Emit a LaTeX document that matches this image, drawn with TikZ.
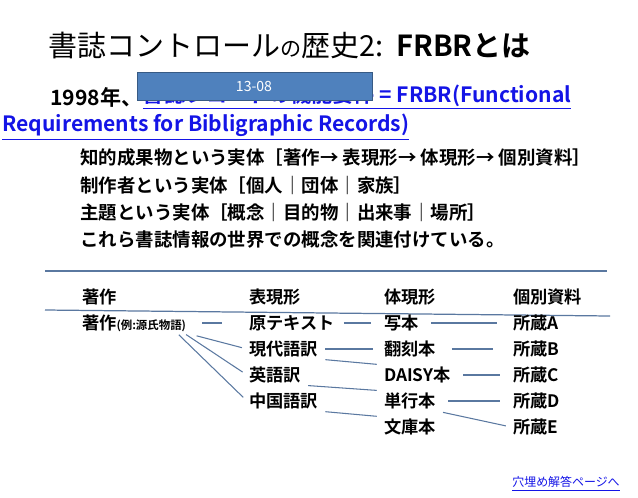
\documentclass[tikz,border=0pt]{standalone}
\usepackage{fontspec}
\setmainfont{Noto Sans CJK JP}
\newfontfamily\jpbold{Noto Sans CJK JP Bold}
\usetikzlibrary{positioning}
\definecolor{linkblue}{RGB}{20,20,230}
\definecolor{boxblue}{RGB}{79,129,189}
\definecolor{rulecol}{RGB}{90,120,160}
\tikzset{x=0.02cm, y=-0.02cm,
    cell/.style={anchor=west, inner sep=1pt, font=\jpbold\fontsize{9.8}{10}\selectfont},
    bullet/.style={anchor=west, inner sep=0pt, font=\jpbold\fontsize{10.5}{11}\selectfont},
    lead/.style={anchor=west, inner sep=0pt, font=\jpbold\fontsize{12}{13}\selectfont},
    link/.style={text=linkblue},
    tie/.style={rulecol, line width=0.6pt, shorten <=3pt, shorten >=3pt},
    sep/.style={rulecol, line width=0.7pt}}
\begin{document}
\begin{tikzpicture}
\useasboundingbox (0,0) rectangle (638,497);
% title
\node[anchor=west, inner sep=0pt] (title) at (48,45)
  {\fontsize{16.5}{17}\selectfont 書誌コントロール{\fontsize{12}{13}\selectfont の}歴史2:\ \ {\jpbold FRBRとは}};
% lead text
\node[lead] (year) at (50,97) {1998年、};
\node[lead, link, right=0pt of year] (frbr)
  {\underline{書誌レコードの機能要件 = FRBR(Functional}};
\node[lead, link] (req) at (2,127)
  {\underline{Requirements for Bibligraphic Records)}};
\node[draw=boxblue!70!black, fill=boxblue, minimum width=235*0.02cm,
  minimum height=28*0.02cm, anchor=north west, inner sep=0pt] (tag) at (137,72) {};
\node[text=white, font=\fontsize{8}{9}\selectfont] (tagtext) at (254,86) {13-08};
% bullets
\node[bullet] (b1) at (80,158) {知的成果物という実体［著作→\ 表現形→\ 体現形→\ 個別資料］};
\node[bullet] (b2) at (80,185) {制作者という実体［個人｜団体｜家族］};
\node[bullet] (b3) at (80,212) {主題という実体［概念｜目的物｜出来事｜場所］};
\node[bullet] (b4) at (80,240) {これら書誌情報の世界での概念を関連付けている。};
% rules
\coordinate (r1a) at (45,271);
\coordinate (r1b) at (607,271);
\coordinate (r2a) at (45,310);
\coordinate (r2b) at (610,316);
\draw[sep] (r1a) -- (r1b);
\draw[sep] (r2a) -- (r2b);
% header row
\node[cell] (hw) at (80,297) {著作};
\node[cell] (he) at (247,297) {表現形};
\node[cell] (hm) at (382,297) {体現形};
\node[cell] (hi) at (511,297) {個別資料};
% work
\node[cell] (w) at (80,323) {著作{\fontsize{6.5}{7}\selectfont (例:源氏物語)}};
% expressions
\node[cell] (e1) at (247,323) {原テキスト};
\node[cell] (e2) at (247,349) {現代語訳};
\node[cell] (e3) at (247,375) {英語訳};
\node[cell] (e4) at (247,401) {中国語訳};
% manifestations
\node[cell] (m1) at (382,323) {写本};
\node[cell] (m2) at (382,349) {翻刻本};
\node[cell] (m3) at (382,375) {DAISY本};
\node[cell] (m4) at (382,401) {単行本};
\node[cell] (m5) at (382,427) {文庫本};
% items
\node[cell] (i1) at (511,323) {所蔵A};
\node[cell] (i2) at (511,349) {所蔵B};
\node[cell] (i3) at (511,375) {所蔵C};
\node[cell] (i4) at (511,401) {所蔵D};
\node[cell] (i5) at (511,427) {所蔵E};
% ties
\draw[tie, shorten <=8pt, shorten >=14pt] (w.east) -- (e1.west);
\draw[tie, shorten <=5pt] (w.south east) -- (e2.west);
\draw[tie, shorten <=1pt] ([xshift=-2pt]w.south east) -- (e3.west);
\draw[tie, shorten <=1pt] ([xshift=-6pt]w.south east) -- (e4.west);
\draw[tie, shorten <=4pt, shorten >=6pt] (e1.east) -- (m1.west);
\draw[tie, shorten >=5pt] (e2.east) -- (m2.west);
\draw[tie] (e2.south east) -- (m3.north west);
\draw[tie] (e3.south east) -- (m4.north west);
\draw[tie] (e4.south east) -- (m5.north west);
\draw[tie, shorten <=6pt, shorten >=8pt] (m1.east) -- (i1.west);
\draw[tie, shorten <=8pt, shorten >=10pt] (m2.east) -- (i2.west);
\draw[tie, shorten <=6pt, shorten >=6pt] (m3.east) -- (i3.west);
\draw[tie, shorten <=6pt, shorten >=6pt] (m4.east) -- (i4.west);
\draw[tie] (m4.south east) -- (i5.west);
% footer link
\node[link, anchor=east, inner sep=0pt, font=\fontsize{6.8}{7}\selectfont] (answer) at (620,484)
  {\underline{穴埋め解答ページへ}};
\end{tikzpicture}
\end{document}
